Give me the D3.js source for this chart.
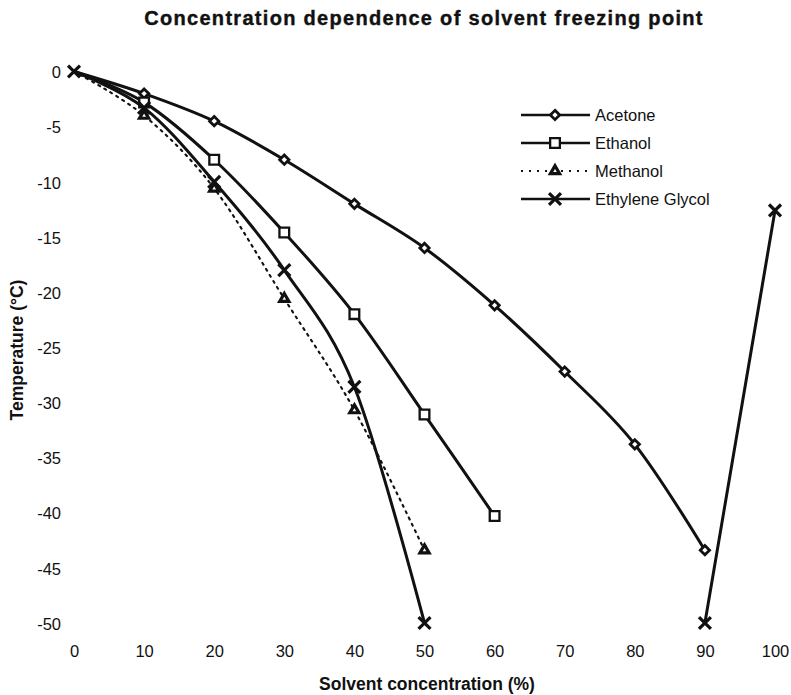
<!DOCTYPE html>
<html>
<head>
<meta charset="utf-8">
<script src="https://cdn.jsdelivr.net/npm/d3@7"></script>
<style>
  html, body { margin: 0; padding: 0; background: #fff; }
  svg { display: block; }
  text { font-family: "Liberation Sans", Arial, sans-serif; fill: #111; }
</style>
</head>
<body>
<svg id="chart" width="791" height="695"></svg>
<script>
// Solvent concentration (%) for each measured point
const concentrations = [0, 10, 20, 30, 40, 50, 60, 70, 80, 90, 100];

// Freezing point (°C) per series; null = no point drawn
const acetone        = [0, -2, -4.5, -8, -12, -16, -21.2, -27.2, -33.8, -43.4];
const ethanol        = [0, -2.8, -8, -14.6, -22, -31.1, -40.3];
const methanol       = [0, -4, -10.6, -20.6, -30.7, -43.4];
const ethyleneGlycol = [0, -3.3, -10, -18, -28.6, -50, null, null, null, -50, -12.6];

const seriesNames = ["Acetone", "Ethanol", "Methanol", "Ethylene Glycol"];

const xTicks = [0, 10, 20, 30, 40, 50, 60, 70, 80, 90, 100];
const yTicks = [0, -5, -10, -15, -20, -25, -30, -35, -40, -45, -50];

const titleText = "Concentration dependence of solvent freezing point";
const xTitle = "Solvent concentration (%)";
const yTitle = "Temperature (°C)";

const svg = d3.select("#chart");

const x = d3.scaleLinear().domain([0, 100]).range([74, 775]);
const y = d3.scaleLinear().domain([0, -50]).range([71.5, 623]);

// Title
svg.append("text")
  .attr("x", 424).attr("y", 25)
  .attr("text-anchor", "middle")
  .style("font-weight", "bold").style("font-size", "20px")
  .style("letter-spacing", "1.3px")
  .style("stroke", "#111").style("stroke-width", "0.4px")
  .text(titleText);

// X axis (labels only, no domain line or tick marks)
const gx = svg.append("g")
  .attr("transform", `translate(0,${y(-50)})`)
  .call(d3.axisBottom(x).tickValues(xTicks).tickSize(0).tickPadding(22).tickFormat(d => String(d)));
gx.select(".domain").remove();
gx.selectAll("text")
  .style("font-size", "16.5px")
  .style("font-family", "'Liberation Sans', Arial, sans-serif")
  .attr("fill", "#111");

// Y axis
const gy = svg.append("g")
  .attr("transform", `translate(${x(0)},0)`)
  .call(d3.axisLeft(y).tickValues(yTicks).tickSize(0).tickPadding(13).tickFormat(d => String(d)));
gy.select(".domain").remove();
gy.selectAll("text")
  .style("font-size", "16.5px")
  .style("font-family", "'Liberation Sans', Arial, sans-serif")
  .attr("fill", "#111")
  .attr("dy", "0.38em");

// Axis titles
svg.append("text")
  .attr("x", 427).attr("y", 690)
  .attr("text-anchor", "middle")
  .style("font-weight", "bold").style("font-size", "17.5px")
  .text(xTitle);

svg.append("text")
  .attr("transform", "translate(23,350) rotate(-90)")
  .attr("text-anchor", "middle")
  .style("font-weight", "bold").style("font-size", "17.5px")
  .text(yTitle);

// Series definitions; the shared origin point carries only the glycol marker
const series = [
  { name: seriesNames[0], values: acetone,        symbol: d3.symbolDiamond2,  size: 55,  dash: null,  markerWidth: 2.8, originMarker: false },
  { name: seriesNames[1], values: ethanol,        symbol: d3.symbolSquare2,   size: 120, dash: null,  markerWidth: 2.3, originMarker: false },
  { name: seriesNames[2], values: methanol,       symbol: d3.symbolTriangle2, size: 60,  dash: "2,5", markerWidth: 3.2, originMarker: false },
  { name: seriesNames[3], values: ethyleneGlycol, symbol: d3.symbolX,         size: 95,  dash: null,  markerWidth: 3.2, originMarker: true }
];

const line = d3.line()
  .defined(d => d.v != null)
  .x(d => x(d.c))
  .y(d => y(d.v))
  .curve(d3.curveCatmullRom.alpha(0));

const plot = svg.append("g");

series.forEach(s => {
  const pts = s.values.map((v, i) => ({ c: concentrations[i], v }));
  plot.append("path")
    .datum(pts)
    .attr("d", line)
    .attr("fill", "none")
    .attr("stroke", "#111")
    .attr("stroke-width", s.dash ? 2.1 : 3)
    .attr("stroke-dasharray", s.dash)
    .attr("stroke-linecap", s.dash ? "round" : "butt");
});

series.forEach(s => {
  const pts = s.values
    .map((v, i) => ({ c: concentrations[i], v }))
    .filter(d => d.v != null && (s.originMarker || d.c !== 0));
  plot.selectAll(null)
    .data(pts)
    .join("path")
    .attr("transform", d => `translate(${x(d.c)},${y(d.v)})`)
    .attr("d", d3.symbol(s.symbol, s.size))
    .attr("fill", "#fff")
    .attr("stroke", "#111")
    .attr("stroke-width", s.markerWidth);
});

// Legend
const legendRows = [115, 143, 171, 199];
const legend = svg.append("g");
series.forEach((s, i) => {
  const ly = legendRows[i];
  legend.append("line")
    .attr("x1", 521).attr("x2", 590)
    .attr("y1", ly).attr("y2", ly)
    .attr("stroke", "#111")
    .attr("stroke-width", s.dash ? 2 : 2.4)
    .attr("stroke-dasharray", s.dash ? "2,6" : null);
  legend.append("path")
    .attr("transform", `translate(555,${ly})`)
    .attr("d", d3.symbol(s.symbol, s.size))
    .attr("fill", "#fff")
    .attr("stroke", "#111")
    .attr("stroke-width", s.markerWidth);
  legend.append("text")
    .attr("x", 595).attr("y", ly)
    .attr("dy", "0.36em")
    .style("font-size", "16.5px")
    .text(s.name);
});
</script>
</body>
</html>
